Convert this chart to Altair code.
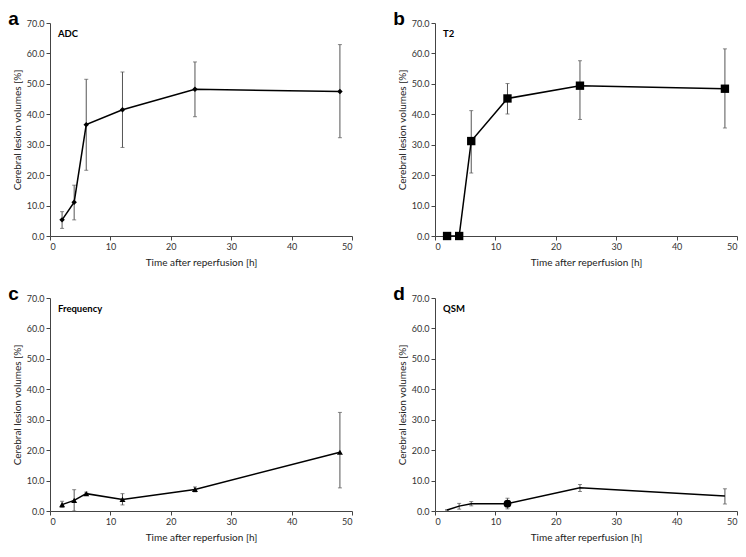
import altair as alt
import pandas as pd

time_h = [2, 4, 6, 12, 24, 48]

adc_mean = [5.3, 11.1, 36.6, 41.5, 48.2, 47.5]
adc_upper = [8.0, 16.7, 51.5, 53.9, 57.2, 62.9]
adc_lower = [2.5, 5.3, 21.6, 29.1, 39.2, 32.3]

t2_mean = [0.0, 0.0, 31.2, 45.2, 49.4, 48.4]
t2_upper = [0.0, 0.0, 41.2, 50.1, 57.6, 61.5]
t2_lower = [0.0, 0.0, 20.7, 40.1, 38.3, 35.5]

freq_mean = [2.1, 3.5, 5.7, 3.8, 7.1, 19.3]
freq_upper = [3.2, 7.0, 6.2, 5.7, 7.9, 32.4]
freq_lower = [1.2, 0.0, 5.2, 2.0, 6.3, 7.6]

qsm_mean = [0.3, 1.6, 2.4, 2.4, 7.6, 4.9]
qsm_upper = [0.5, 2.5, 3.1, 4.2, 8.7, 7.3]
qsm_lower = [0.1, 0.6, 1.7, 0.7, 6.4, 2.3]

FONT = "Lato"
W, H = 302, 213

XSCALE = alt.Scale(domain=[0, 50], nice=False)
YSCALE = alt.Scale(domain=[0, 70], nice=False)
XAXIS = alt.Axis(values=[0, 10, 20, 30, 40, 50], title="Time after reperfusion [h]", grid=False)
YAXIS = alt.Axis(values=[0, 10, 20, 30, 40, 50, 60, 70], format=".1f",
                 title="Cerebral lesion volumes [%]", grid=False)


def X():
    return alt.X("t:Q", scale=XSCALE, axis=XAXIS)


def Y(field):
    return alt.Y(field, scale=YSCALE, axis=YAXIS)


def panel(letter, label, mean, upper, lower, shape, size, big_circle_at=None):
    df = pd.DataFrame({"t": time_h, "v": mean, "hi": upper, "lo": lower})
    base = alt.Chart(df)
    err = base.mark_rule(color="#555555", strokeWidth=1).encode(x=X(), y=Y("lo:Q"), y2="hi:Q")
    cap_hi = base.mark_tick(color="#555555", thickness=1, size=4, orient="horizontal").encode(x=X(), y=Y("hi:Q"))
    cap_lo = base.mark_tick(color="#555555", thickness=1, size=4, orient="horizontal").encode(x=X(), y=Y("lo:Q"))
    line = base.mark_line(color="black", strokeWidth=1.5).encode(x=X(), y=Y("v:Q"))
    pts = base.mark_point(shape=shape, size=size, filled=True, color="black", opacity=1).encode(x=X(), y=Y("v:Q"))
    layers = [err, cap_hi, cap_lo, line, pts]
    if big_circle_at is not None:
        circ = base.transform_filter(alt.datum.t == big_circle_at).mark_point(
            shape="circle", size=60, filled=True, color="black", opacity=1).encode(x=X(), y=Y("v:Q"))
        layers.append(circ)
    lab = alt.Chart(pd.DataFrame({"txt": [label]})).mark_text(
        align="left", baseline="top", font=FONT, fontSize=9.5, fontWeight="bold", color="black"
    ).encode(x=alt.value(8), y=alt.value(6), text="txt:N")
    layers.append(lab)
    return alt.layer(*layers).properties(
        width=W, height=H,
        title=alt.TitleParams(letter, anchor="start", frame="bounds", fontSize=19,
                              fontWeight="bold", font="Liberation Sans", color="black",
                              offset=-10, dx=-4)
    )


pa = panel("a", "ADC", adc_mean, adc_upper, adc_lower, "diamond", 30)
pb = panel("b", "T2", t2_mean, t2_upper, t2_lower, "square", 70)
pc = panel("c", "Frequency", freq_mean, freq_upper, freq_lower, "triangle-up", 36)
pd_ = panel("d", "QSM", qsm_mean, qsm_upper, qsm_lower, "stroke", 12, big_circle_at=12)

chart = alt.vconcat(
    alt.hconcat(pa, pb, spacing=40),
    alt.hconcat(pc, pd_, spacing=40),
    spacing=18,
).configure(padding={"top": 2, "left": 0, "right": 0, "bottom": 4}).configure_view(stroke=None).configure_axis(
    grid=False, domainColor="#444444", tickColor="#444444", tickSize=4,
    labelFont=FONT, labelFontSize=9, labelColor="#333333",
    titleFont=FONT, titleFontSize=10, titleFontWeight="normal", titleColor="#222222",
    titlePadding=6,
).configure_axisY(titlePadding=4)

chart.save("out.html", embed_options={"renderer": "svg", "actions": False})
